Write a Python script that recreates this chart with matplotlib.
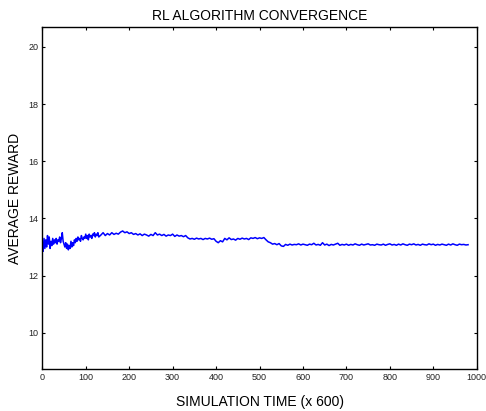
import matplotlib

matplotlib.use("Agg")
import matplotlib.pyplot as plt
import numpy as np

plt.rcParams["font.family"] = ["Liberation Sans", "DejaVu Sans"]

x_early = list(range(0, 131, 2))
y_early = [
    13.05, 12.85, 13.30, 12.95, 13.25, 13.00, 13.40, 13.10, 13.35, 12.95,
    13.20, 13.05, 13.30, 13.10, 13.25, 13.15, 13.30, 13.10, 13.25, 13.20,
    13.35, 13.15, 13.30, 13.50, 13.20, 13.10, 13.00, 13.15, 12.95, 13.10,
    12.90, 13.05, 12.95, 13.20, 13.00, 13.15, 13.05, 13.25, 13.15, 13.30,
    13.20, 13.35, 13.25, 13.30, 13.20, 13.40, 13.30, 13.25, 13.35, 13.30,
    13.45, 13.30, 13.40, 13.25, 13.45, 13.35, 13.40, 13.30, 13.45, 13.40,
    13.50, 13.35, 13.45, 13.40, 13.50, 13.35,
]

# Later part (sampled every 5 steps).
x_late = list(range(135, 981, 5))
y_late = [
    13.42, 13.50, 13.40, 13.47, 13.42, 13.50, 13.44, 13.48, 13.45, 13.52,
    13.56, 13.50, 13.53, 13.47, 13.50, 13.44, 13.47, 13.42, 13.46, 13.40,
    13.45, 13.42, 13.38, 13.44, 13.40, 13.50, 13.42, 13.45, 13.40, 13.44,
    13.38, 13.42, 13.40, 13.45, 13.37, 13.42, 13.38, 13.40, 13.36, 13.40,
    13.32, 13.28, 13.30, 13.27, 13.31, 13.28, 13.30, 13.26, 13.30, 13.28,
    13.31, 13.27, 13.29, 13.20, 13.15, 13.22, 13.18, 13.30, 13.25, 13.32,
    13.26, 13.28, 13.24, 13.30, 13.27, 13.31, 13.28, 13.30, 13.26, 13.32,
    13.30, 13.33, 13.29, 13.32, 13.30, 13.33, 13.25, 13.18, 13.15, 13.10,
    13.12, 13.08, 13.12, 13.04, 13.02, 13.09, 13.06, 13.10, 13.07, 13.09,
    13.08, 13.11, 13.07, 13.10, 13.08, 13.06, 13.10, 13.08, 13.13, 13.07,
    13.09, 13.06, 13.15, 13.07, 13.10, 13.05, 13.09, 13.07, 13.10, 13.13,
    13.06, 13.09, 13.07, 13.10, 13.06, 13.09, 13.07, 13.11, 13.08, 13.06,
    13.10, 13.07, 13.09, 13.11, 13.07, 13.08, 13.06, 13.10, 13.08, 13.07,
    13.10, 13.06, 13.09, 13.11, 13.07, 13.09, 13.06, 13.10, 13.07, 13.11,
    13.08, 13.06, 13.10, 13.08, 13.11, 13.07, 13.09, 13.06, 13.10, 13.08,
    13.07, 13.11, 13.08, 13.10, 13.06, 13.09, 13.07, 13.10, 13.08, 13.06,
    13.10, 13.07, 13.11, 13.08, 13.06, 13.10, 13.08, 13.09, 13.07, 13.08,
]

x_ticks = list(range(0, 1001, 100))
y_ticks = [10, 12, 14, 16, 18, 20]

x = np.array(x_early + x_late)
y = np.array(y_early + y_late)

fig = plt.figure(figsize=(4.86, 4.11), dpi=100)
ax = fig.add_axes([0.087, 0.102, 0.894, 0.832])

ax.plot(x, y, color="#0000ff", lw=1.1)

ax.set_xlim(0, 1000)
ax.set_ylim(8.73, 20.69)
ax.set_xticks(x_ticks)
ax.set_yticks(y_ticks)
ax.tick_params(direction="in", length=2.5, width=0.8, labelsize=6.5,
               labelcolor="#222222", top=True, right=True, pad=3)
for s in ax.spines.values():
    s.set_linewidth(1.0)

ax.set_title("RL ALGORITHM CONVERGENCE", fontsize=10, pad=5)
ax.set_xlabel("SIMULATION TIME (x 600)", fontsize=10, labelpad=9)
ax.set_ylabel("AVERAGE REWARD", fontsize=10, labelpad=4)

fig.savefig("out.png", dpi=100)
